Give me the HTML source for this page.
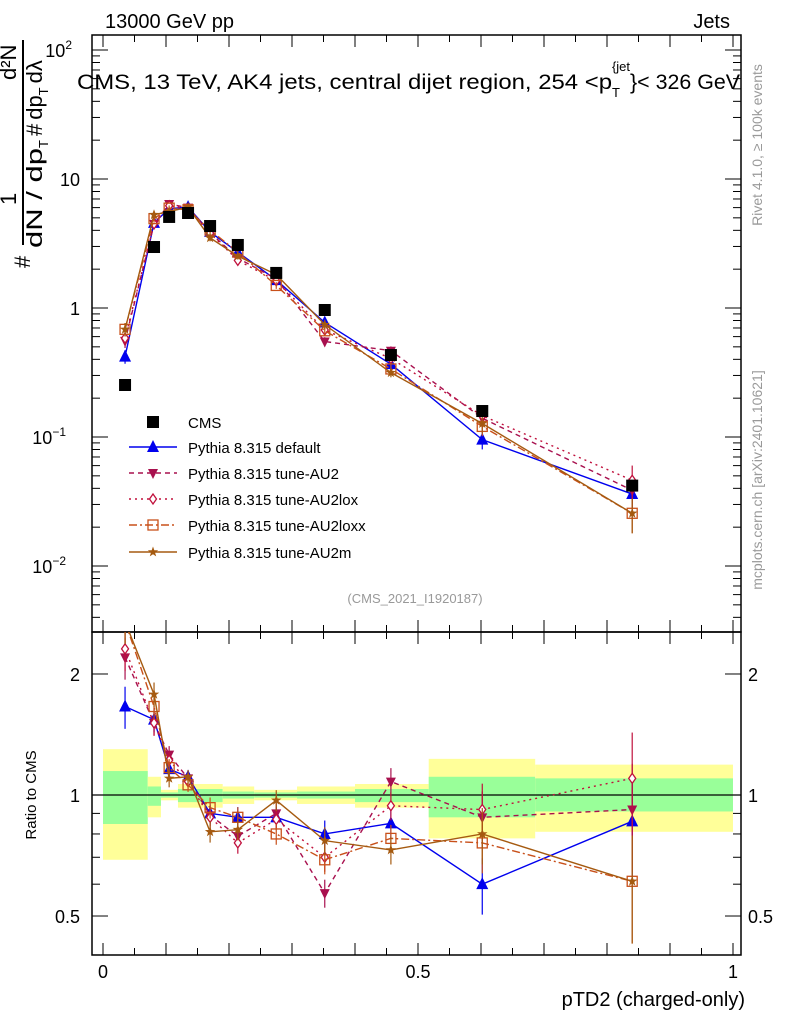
<!DOCTYPE html>
<html><head><meta charset="utf-8"><style>
body{margin:0;background:#fff;}
svg{display:block;font-family:"Liberation Sans",sans-serif;}
</style></head><body>
<svg id="c" width="786" height="1024" viewBox="0 0 786 1024" xmlns="http://www.w3.org/2000/svg">
<defs>
<clipPath id="clipTop"><rect x="92" y="35" width="649" height="597"/></clipPath>
<clipPath id="clipBot"><rect x="92" y="632" width="649" height="323"/></clipPath>
</defs>
<text x="105" y="28" font-size="20">13000 GeV pp</text>
<text x="730" y="28" font-size="20" text-anchor="end">Jets</text>
<g id="bands" clip-path="url(#clipBot)"></g>
<g id="axes"></g>
<text x="77" y="89" font-size="21"><tspan textLength="535" lengthAdjust="spacingAndGlyphs">CMS, 13 TeV, AK4 jets, central dijet region, 254 &lt;p</tspan><tspan font-size="13" dy="8">T</tspan><tspan font-size="13" dx="-8" dy="-26">{jet</tspan><tspan dy="18" textLength="110" lengthAdjust="spacingAndGlyphs">}&lt; 326 GeV</tspan></text>
<text x="415" y="603" font-size="13" fill="#999" text-anchor="middle">(CMS_2021_I1920187)</text>
<g id="top" clip-path="url(#clipTop)"></g>
<g id="bot" clip-path="url(#clipBot)"></g>
<g id="legend"></g>
<g>
<line x1="23" y1="245" x2="23" y2="40" stroke="#000" stroke-width="2"/>
<text transform="translate(30,268) rotate(-90)" font-size="22">#</text>
<text transform="translate(16,205) rotate(-90)" font-size="22">1</text>
<text transform="translate(16,80) rotate(-90)" font-size="22">d²N</text>
<text transform="translate(42,248) rotate(-90)" font-size="22"><tspan textLength="100" lengthAdjust="spacingAndGlyphs">dN / dp</tspan><tspan font-size="13" dy="6">T</tspan><tspan dy="-6" dx="4">#</tspan><tspan dx="4">dp</tspan><tspan font-size="13" dy="6">T</tspan><tspan dy="-6" dx="4">dλ</tspan></text>
</g>
<text transform="translate(36,795) rotate(-90)" font-size="15" text-anchor="middle">Ratio to CMS</text>
<text x="745" y="1006" font-size="20" text-anchor="end">pTD2 (charged-only)</text>
<text transform="translate(762,145) rotate(-90)" font-size="14" fill="#999" text-anchor="middle">Rivet 4.1.0, ≥ 100k events</text>
<text transform="translate(762,480) rotate(-90)" font-size="14" fill="#999" text-anchor="middle">mcplots.cern.ch [arXiv:2401.10621]</text>
</svg>
<script>
const xVals=[0.035,0.081,0.105,0.135,0.170,0.214,0.275,0.352,0.457,0.602,0.840];
const cmsVals=[0.253,2.97,5.08,5.45,4.32,3.08,1.87,0.965,0.432,0.159,0.042];
const ratioDefault=[1.66,1.54,1.16,1.11,0.90,0.88,0.88,0.80,0.85,0.60,0.86];
const ratioAU2=[2.2,1.51,1.26,1.10,0.89,0.79,0.90,0.57,1.08,0.88,0.92];
const ratioAU2lox=[2.31,1.51,1.22,1.08,0.88,0.76,0.87,0.70,0.94,0.92,1.10];
const ratioAU2loxx=[2.7,1.66,1.17,1.06,0.93,0.88,0.80,0.69,0.78,0.76,0.61];
const ratioAU2m=[2.7,1.78,1.10,1.11,0.81,0.82,0.97,0.77,0.73,0.80,0.61];
const relErr=[0.12,0.07,0.05,0.04,0.06,0.06,0.06,0.08,0.08,0.16,0.3];
const binEdges=[0,0.071,0.092,0.119,0.19,0.24,0.308,0.40,0.517,0.686,1.0];
const yellowHi=[1.30,1.11,1.03,1.065,1.05,1.03,1.05,1.065,1.23,1.19];
const yellowLo=[0.69,0.88,0.97,0.93,0.95,0.97,0.95,0.93,0.78,0.81];
const greenHi=[1.147,1.05,1.015,1.035,1.02,1.015,1.02,1.035,1.11,1.10];
const greenLo=[0.847,0.94,0.985,0.96,0.98,0.985,0.98,0.96,0.88,0.91];

const NS="http://www.w3.org/2000/svg";
const X=v=>103+630*v;
const YT=v=>308-129*Math.log10(v);
const YR=r=>795-402*Math.log10(r);
function mk(tag,attrs,parent){const e=document.createElementNS(NS,tag);for(const k in attrs)e.setAttribute(k,attrs[k]);parent.appendChild(e);return e;}
const axes=document.getElementById('axes');
const bands=document.getElementById('bands');
const topG=document.getElementById('top');
const botG=document.getElementById('bot');
const leg=document.getElementById('legend');

for(let i=0;i<binEdges.length-1;i++){
  const x0=X(binEdges[i]),x1=X(binEdges[i+1]);
  const y=mk('rect',{x:x0,y:YR(yellowHi[i]),width:x1-x0,height:YR(yellowLo[i])-YR(yellowHi[i]),fill:'#ffff99'},bands);
  
  
  const g=mk('rect',{x:x0,y:YR(greenHi[i]),width:x1-x0,height:YR(greenLo[i])-YR(greenHi[i]),fill:'#99ff99'},bands);
  
  
}
const f1=mk('rect',{x:92,y:35,width:649,height:597,fill:'none',stroke:'#000','stroke-width':1.5},axes);


const f2=mk('rect',{x:92,y:632,width:649,height:323,fill:'none',stroke:'#000','stroke-width':1.5},axes);


const one=mk('line',{x1:92,x2:741,y1:YR(1),y2:YR(1),stroke:'#000','stroke-width':1.2},axes);


for(let i=0;i<=20;i++){
  const v=i*0.05,x=X(v),len=(i%2==0)?12:7;
  mk('line',{x1:x,x2:x,y1:35,y2:35+len,stroke:'#000'},axes);
  mk('line',{x1:x,x2:x,y1:632,y2:632-len,stroke:'#000'},axes);
  mk('line',{x1:x,x2:x,y1:632,y2:632+len,stroke:'#000'},axes);
  mk('line',{x1:x,x2:x,y1:955,y2:955-len,stroke:'#000'},axes);
}
const xLabels=['0','0.5','1'];
[0,0.5,1].forEach((v,i)=>{const t=mk('text',{x:X(v),y:978,'font-size':18,'text-anchor':'middle'},axes);t.textContent=xLabels[i];

});
for(let d=-3;d<=2;d++){for(let m=1;m<10;m++){const v=m*Math.pow(10,d);const y=YT(v);if(y<35||y>632)continue;const len=m==1?16:8;
mk('line',{x1:92,x2:92+len,y1:y,y2:y,stroke:'#000'},axes);mk('line',{x1:741,x2:741-len,y1:y,y2:y,stroke:'#000'},axes);}}
const yTopLabels=[[100,'10','2'],[10,'10',''],[1,'1',''],[0.1,'10','−1'],[0.01,'10','−2']];
yTopLabels.forEach(([v,b,e])=>{const t=mk('text',{x:e?(e.length>1?66:72):80,y:YT(v)+7,'font-size':18,'text-anchor':'end'},axes);t.textContent=b;


if(e){const s=mk('tspan',{'font-size':12,dy:-8},t);s.textContent=e;}});
[0.4,0.5,0.6,0.7,0.8,0.9,1,2].forEach(v=>{const y=YR(v);const len=(v==0.5||v==1||v==2)?16:8;
mk('line',{x1:92,x2:92+len,y1:y,y2:y,stroke:'#000'},axes);mk('line',{x1:741,x2:741-len,y1:y,y2:y,stroke:'#000'},axes);});
[[2,'2'],[1,'1'],[0.5,'0.5']].forEach(([v,s])=>{
  const a=mk('text',{x:80,y:YR(v)+7,'font-size':18,'text-anchor':'end'},axes);a.textContent=s;
  
  
  const b=mk('text',{x:748,y:YR(v)+7,'font-size':18},axes);b.textContent=s;
  
  });

function marker(g,type,x,y,col){
  if(type=='sq') return mk('rect',{x:x-6,y:y-6,width:12,height:12,fill:'#000'},g);
  if(type=='up') return mk('polygon',{points:`${x},${y-7} ${x-6},${y+5} ${x+6},${y+5}`,fill:col},g);
  if(type=='down') return mk('polygon',{points:`${x},${y+6} ${x-5},${y-4} ${x+5},${y-4}`,fill:col},g);
  if(type=='dia') return mk('polygon',{points:`${x},${y-5} ${x+3.5},${y} ${x},${y+5} ${x-3.5},${y}`,fill:'#fff',stroke:col,'stroke-width':1.3},g);
  if(type=='osq') return mk('rect',{x:x-5,y:y-5,width:10,height:10,fill:'none',stroke:col,'stroke-width':1.3},g);
  if(type=='star'){let p=[];for(let i=0;i<10;i++){const r=i%2?2.2:5.5,a=-Math.PI/2+i*Math.PI/5;p.push((x+r*Math.cos(a)).toFixed(1)+','+(y+r*Math.sin(a)).toFixed(1));}return mk('polygon',{points:p.join(' '),fill:col},g);}
}
const series=[
 {name:'Pythia 8.315 default',r:ratioDefault,col:'#0000ee',dash:'',m:'up',key:'default'},
 {name:'Pythia 8.315 tune-AU2',r:ratioAU2,col:'#a8104e',dash:'5,4',m:'down',key:'au2'},
 {name:'Pythia 8.315 tune-AU2lox',r:ratioAU2lox,col:'#c0103c',dash:'2,4',m:'dia',key:'au2lox'},
 {name:'Pythia 8.315 tune-AU2loxx',r:ratioAU2loxx,col:'#c8501a',dash:'8,3,2,3',m:'osq',key:'au2loxx'},
 {name:'Pythia 8.315 tune-AU2m',r:ratioAU2m,col:'#a55a10',dash:'',m:'star',key:'au2m'}
];
series.forEach(s=>{
  const vals=cmsVals.map((c,i)=>c*s.r[i]);
  const ptsT=xVals.map((x,i)=>X(x)+','+YT(vals[i])).join(' ');
  const ptsB=xVals.map((x,i)=>X(x)+','+YR(s.r[i])).join(' ');
  const lt=mk('polyline',{points:ptsT,fill:'none',stroke:s.col,'stroke-width':1.4,'stroke-dasharray':s.dash},topG);
  
  
  const lb=mk('polyline',{points:ptsB,fill:'none',stroke:s.col,'stroke-width':1.4,'stroke-dasharray':s.dash},botG);
  
  
  xVals.forEach((x,i)=>{
    const e=relErr[i];
    mk('line',{x1:X(x),x2:X(x),y1:YT(vals[i]*(1+e)),y2:YT(vals[i]*(1-e)),stroke:s.col,'stroke-width':1.2},topG);
    mk('line',{x1:X(x),x2:X(x),y1:YR(s.r[i]*(1+e)),y2:YR(s.r[i]*(1-e)),stroke:s.col,'stroke-width':1.2},botG);
    const a=marker(topG,s.m,X(x),YT(vals[i]),s.col);
    
    
    const b=marker(botG,s.m,X(x),YR(s.r[i]),s.col);
    
    
  });
});
xVals.forEach((x,i)=>{const m=marker(topG,'sq',X(x),YT(cmsVals[i]),'#000');

});
const rowsY=[422,447,473,499,525,552];
const cm=marker(leg,'sq',153,rowsY[0],'#000');


const ct=mk('text',{x:188,y:rowsY[0]+6,'font-size':15},leg);ct.textContent='CMS';


series.forEach((s,i)=>{const y=rowsY[i+1];
  mk('line',{x1:129,x2:177,y1:y,y2:y,stroke:s.col,'stroke-width':1.4,'stroke-dasharray':s.dash},leg);
  marker(leg,s.m,153,y,s.col);
  const t=mk('text',{x:188,y:y+6,'font-size':15},leg);t.textContent=s.name;
  
  });
</script>
</body></html>
